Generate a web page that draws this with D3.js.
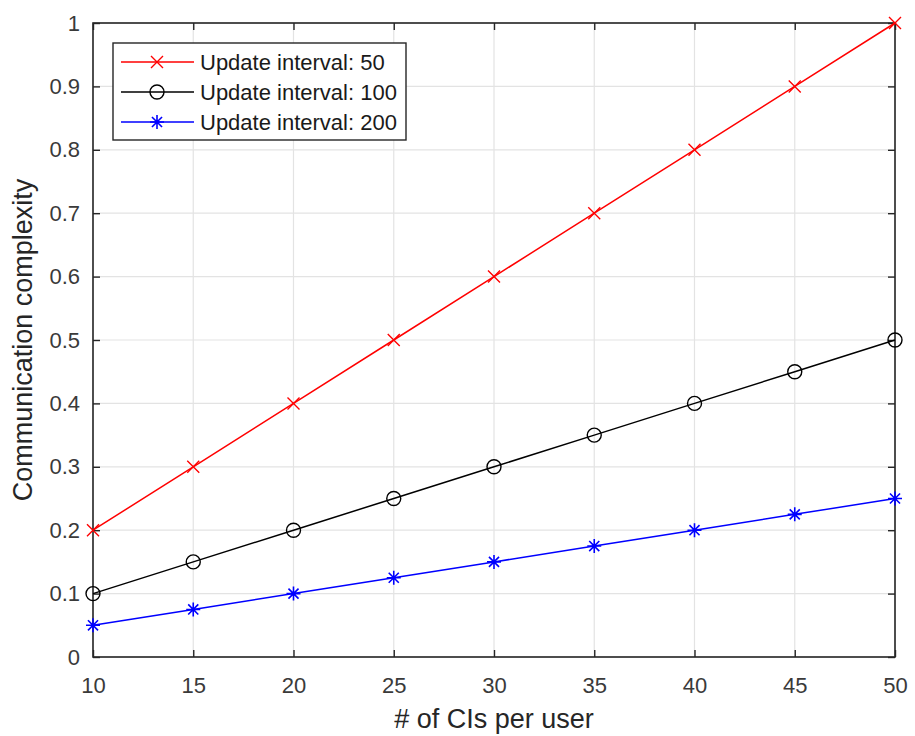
<!DOCTYPE html>
<html>
<head>
<meta charset="utf-8">
<script src="https://cdn.jsdelivr.net/npm/d3@7"></script>
<style>
  html, body { margin: 0; padding: 0; background: #fff; }
  svg { display: block; }
  text { font-family: "Liberation Sans", Arial, Helvetica, sans-serif; }
</style>
</head>
<body>
<svg id="chart" width="915" height="736"></svg>
<script>
// Number of CIs per user (x axis)
const cisPerUser = [10, 15, 20, 25, 30, 35, 40, 45, 50];

// Communication complexity per update interval
const interval50  = [0.2, 0.3, 0.4, 0.5, 0.6, 0.7, 0.8, 0.9, 1.0];
const interval100 = [0.1, 0.15, 0.2, 0.25, 0.3, 0.35, 0.4, 0.45, 0.5];
const interval200 = [0.05, 0.075, 0.1, 0.125, 0.15, 0.175, 0.2, 0.225, 0.25];

const seriesNames = ["Update interval: 50", "Update interval: 100", "Update interval: 200"];

const xTicks = [10, 15, 20, 25, 30, 35, 40, 45, 50];
const yTicks = [0, 0.1, 0.2, 0.3, 0.4, 0.5, 0.6, 0.7, 0.8, 0.9, 1];

const series = [
  { name: seriesNames[0], values: interval50,  color: "#ff0000", marker: "x" },
  { name: seriesNames[1], values: interval100, color: "#000000", marker: "o" },
  { name: seriesNames[2], values: interval200, color: "#0000ff", marker: "*" }
];

const svg = d3.select("#chart");
const margin = { left: 93, right: 20, top: 23, bottom: 79 };
const W = 915, H = 736;
const plotW = W - margin.left - margin.right;
const plotH = H - margin.top - margin.bottom;

const x = d3.scaleLinear().domain([10, 50]).range([margin.left, margin.left + plotW]);
const y = d3.scaleLinear().domain([0, 1]).range([margin.top + plotH, margin.top]);

const axisColor = "#262626";
const gridColor = "#e3e3e3";
const g = svg.append("g");

// grid lines
g.append("g").selectAll("line").data(xTicks).join("line")
  .attr("x1", d => x(d)).attr("x2", d => x(d))
  .attr("y1", y(0)).attr("y2", y(1))
  .attr("stroke", gridColor).attr("stroke-width", 1.2);
g.append("g").selectAll("line").data(yTicks).join("line")
  .attr("y1", d => y(d)).attr("y2", d => y(d))
  .attr("x1", x(10)).attr("x2", x(50))
  .attr("stroke", gridColor).attr("stroke-width", 1.2);

// axes with inward ticks on all four sides
const tickLen = 7;
const fmtY = d => d === 0 ? "0" : d === 1 ? "1" : d3.format(".1f")(d);

const xAxis = d3.axisBottom(x).tickValues(xTicks).tickSize(-tickLen).tickPadding(20).tickFormat(d3.format("d"));
const yAxis = d3.axisLeft(y).tickValues(yTicks).tickSize(-tickLen).tickPadding(13).tickFormat(fmtY);
const xAxisTop = d3.axisTop(x).tickValues(xTicks).tickSize(-tickLen).tickFormat("");
const yAxisRight = d3.axisRight(y).tickValues(yTicks).tickSize(-tickLen).tickFormat("");

function styleAxis(sel) {
  sel.select(".domain").remove();
  sel.selectAll(".tick line").attr("stroke", axisColor).attr("stroke-width", 1.4);
  sel.selectAll(".tick text").attr("fill", "#3a3a3a").style("font-size", "22px")
    .style("font-family", "'Liberation Sans', Arial, sans-serif");
}

g.append("g").attr("transform", `translate(0,${y(0)})`).call(xAxis).call(styleAxis);
g.append("g").attr("transform", `translate(${x(10)},0)`).call(yAxis).call(styleAxis);
g.append("g").attr("transform", `translate(0,${y(1)})`).call(xAxisTop).call(styleAxis);
g.append("g").attr("transform", `translate(${x(50)},0)`).call(yAxisRight).call(styleAxis);

// axes box
g.append("rect")
  .attr("x", x(10)).attr("y", y(1))
  .attr("width", x(50) - x(10)).attr("height", y(0) - y(1))
  .attr("fill", "none").attr("stroke", axisColor).attr("stroke-width", 1.6);

// axis labels
svg.append("text")
  .attr("x", (x(10) + x(50)) / 2).attr("y", 728)
  .attr("text-anchor", "middle").attr("fill", "#262626")
  .style("font-size", "27px").text("# of CIs per user");
svg.append("text")
  .attr("transform", `translate(32,${(y(0) + y(1)) / 2}) rotate(-90)`)
  .attr("text-anchor", "middle").attr("fill", "#262626")
  .style("font-size", "27px").text("Communication complexity");

// marker drawing
function drawMarker(sel, type, color) {
  if (type === "x") {
    const s = 6;
    sel.append("path").attr("d", `M${-s},${-s}L${s},${s}M${-s},${s}L${s},${-s}`)
      .attr("stroke", color).attr("stroke-width", 1.4).attr("fill", "none");
  } else if (type === "o") {
    sel.append("circle").attr("r", 7)
      .attr("stroke", color).attr("stroke-width", 1.4).attr("fill", "none");
  } else if (type === "*") {
    const r = 7;
    const d = r * 0.72;
    sel.append("path")
      .attr("d", `M0,${-r}L0,${r}M${-r},0L${r},0M${-d},${-d}L${d},${d}M${-d},${d}L${d},${-d}`)
      .attr("stroke", color).attr("stroke-width", 1.6).attr("fill", "none");
  }
}

// data lines and markers
const line = d3.line().x(d => x(d[0])).y(d => y(d[1]));
series.forEach(s => {
  const pts = cisPerUser.map((c, i) => [c, s.values[i]]);
  g.append("path").datum(pts).attr("d", line)
    .attr("fill", "none").attr("stroke", s.color).attr("stroke-width", 1.5);
  const mg = g.append("g");
  pts.forEach(p => {
    const m = mg.append("g").attr("transform", `translate(${x(p[0])},${y(p[1])})`);
    drawMarker(m, s.marker, s.color);
  });
});

// legend
const leg = svg.append("g");
leg.append("rect").attr("x", 113).attr("y", 43).attr("width", 293).attr("height", 97)
  .attr("fill", "#fff").attr("stroke", axisColor).attr("stroke-width", 1.4);
series.forEach((s, i) => {
  const cy = 62 + i * 30;
  leg.append("line").attr("x1", 121).attr("x2", 194).attr("y1", cy).attr("y2", cy)
    .attr("stroke", s.color).attr("stroke-width", 1.5);
  const m = leg.append("g").attr("transform", `translate(157,${cy})`);
  drawMarker(m, s.marker, s.color);
  leg.append("text").attr("x", 200).attr("y", cy + 8)
    .attr("fill", "#1a1a1a").style("font-size", "22px").text(s.name);
});
</script>
</body>
</html>
